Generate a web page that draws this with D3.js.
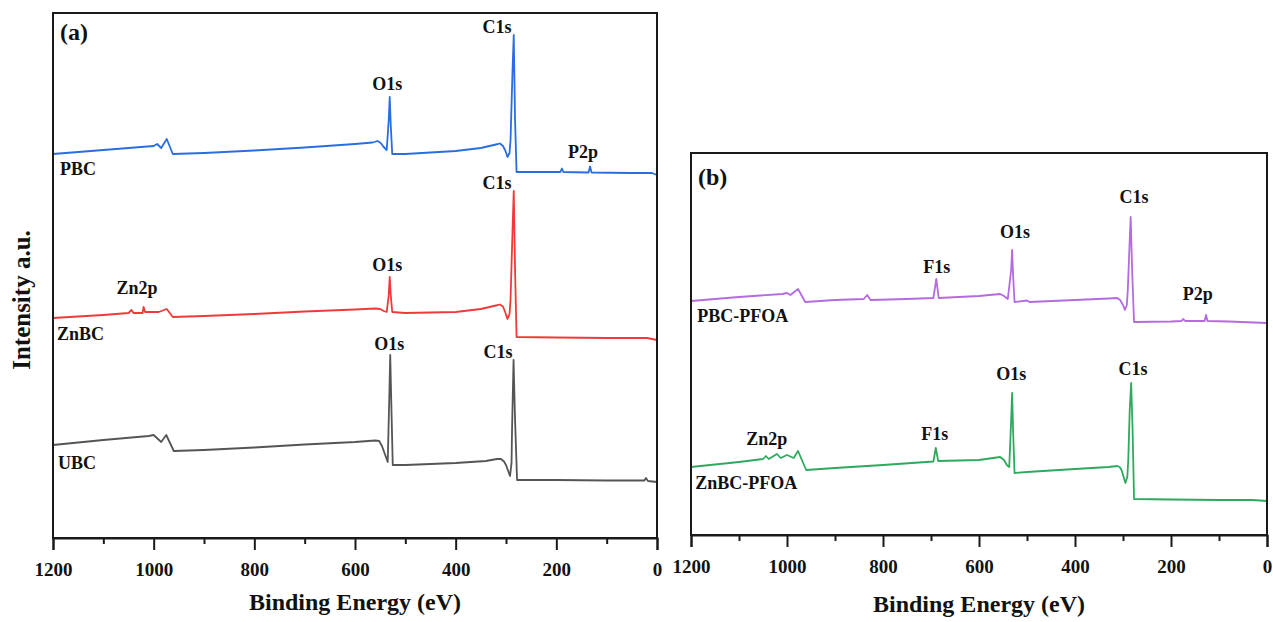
<!DOCTYPE html>
<html>
<head>
<meta charset="utf-8">
<script src="https://cdn.jsdelivr.net/npm/d3@7"></script>
<style>
  body { margin: 0; background: #fff; }
  svg { display: block; font-family: "Liberation Serif", "Times New Roman", serif; font-weight: bold; }
</style>
</head>
<body>
<div id="chart"></div>
<script>
// tick values (binding energy, eV)
const majorTicks = [1200, 1000, 800, 600, 400, 200, 0];
const minorTicks = [1100, 900, 700, 500, 300, 100];

// survey spectra, [binding energy (eV), intensity (a.u., offset)]
const pbc = [[1200,76.8],[1100,77.6],[1000,78.4],[993,78.8],[985,78.0],[974,79.8],[962,76.8],[900,77.0],[800,77.5],[700,78.1],[600,78.8],[565,79.1],[555,79.4],[549,79.0],[543,78.2],[537,77.6],[533,83.6],[531,88.2],[529,82.6],[526,76.8],[500,76.8],[400,77.4],[350,78.0],[320,78.7],[312,78.9],[306,78.4],[301,77.4],[297,76.2],[293,77.0],[291,79.6],[287,93.6],[284.6,100.6],[282,83.6],[279,73.2],[250,73.2],[192,73.2],[189,73.9],[186,73.2],[136,73.1],[133,74.3],[130,73.1],[50,73.0],[10,73.0],[0,72.6]];
const znbc = [[1200,44.0],[1100,44.6],[1050,45.0],[1044,45.6],[1040,45.0],[1022,45.0],[1020,46.2],[1017,45.2],[990,45.2],[974,45.8],[962,44.2],[900,44.4],[800,44.8],[700,45.3],[600,45.7],[560,45.9],[550,45.8],[543,45.4],[537,45.2],[533,48.6],[531,52.2],[529,48.6],[526,45.2],[500,45.0],[400,45.2],[350,45.8],[320,46.5],[312,46.7],[306,46.3],[301,45.0],[297,43.8],[293,44.8],[291,47.6],[287,61.6],[284.6,69.4],[282,53.6],[279,40.2],[200,40.1],[100,40.0],[20,40.0],[0,39.6]];
const ubc = [[1200,18.6],[1100,19.6],[1010,20.4],[1000,20.6],[985,19.2],[975,20.6],[960,17.4],[900,17.6],[800,18.1],[700,18.7],[600,19.2],[560,19.5],[552,19.4],[546,18.3],[540,16.6],[535,15.2],[532,27.6],[530,36.6],[528,27.6],[525,14.6],[500,14.6],[400,15.0],[340,15.4],[318,15.8],[310,15.8],[304,15.3],[300,14.6],[292,12.4],[289,15.0],[288,21.6],[285,35.6],[282,23.6],[278,11.6],[200,11.6],[100,11.5],[25,11.5],[22,12.0],[18,11.4],[0,11.2]];
const pbcPfoa = [[1200,46.8],[1100,47.6],[1010,48.2],[1000,48.4],[993,48.0],[977,49.2],[962,46.6],[900,47.0],[840,47.2],[833,48.0],[826,47.0],[750,47.2],[695,47.4],[689,51.2],[684,47.4],[600,47.8],[556,48.2],[548,47.8],[540,47.2],[533,53.0],[531,57.0],[529,52.0],[526,46.6],[500,46.9],[495,46.6],[400,47.0],[330,47.3],[312,47.4],[306,47.0],[300,46.0],[296,45.0],[292,46.0],[290,49.0],[286,59.0],[284,63.6],[281,53.0],[277,42.6],[200,42.7],[178,42.8],[175,43.2],[170,42.8],[130,42.8],[127,44.0],[124,42.8],[80,42.7],[0,42.4]];
const znbcPfoa = [[1200,13.6],[1100,14.6],[1050,15.2],[1044,15.8],[1038,15.2],[1021,16.2],[1013,15.4],[1000,16.0],[986,15.4],[977,16.8],[960,13.0],[900,13.4],[800,14.0],[695,14.7],[690,17.4],[685,14.8],[600,15.0],[556,15.6],[548,15.0],[542,14.0],[537,13.6],[533,23.0],[531,28.4],[529,21.0],[526,12.4],[500,12.6],[400,13.2],[330,13.6],[312,13.8],[307,13.6],[303,13.0],[295,10.4],[291,11.6],[289,15.0],[286,25.0],[283,30.4],[280,21.0],[277,7.2],[200,7.1],[100,7.0],[30,7.0],[0,6.8]];

// peak and sample labels, [text, energy, intensity]
const peakLabelsA = [["C1s",318,101],["O1s",536,89.6],["P2p",147,76],["C1s",318,69.8],["O1s",536,53.4],["Zn2p",1033,48.8],["O1s",532,37.6],["C1s",316,36]];
const sampleLabelsA = [["PBC",1186,72.6],["ZnBC",1192,39.6],["UBC",1190,13.8]];
const peakLabelsB = [["C1s",277,66.4],["O1s",525,59.4],["F1s",688,52.4],["P2p",144,47],["C1s",279,32],["O1s",533,31],["F1s",692,19],["Zn2p",1042,18]];
const sampleLabelsB = [["PBC-PFOA",1187,42.6],["ZnBC-PFOA",1191,9.2]];

const width = 1273;
const height = 622;

const svg = d3.select("#chart").append("svg")
  .attr("width", width)
  .attr("height", height)
  .attr("viewBox", [0, 0, width, height]);

function panel(opt) {
  const x = d3.scaleLinear([1200, 0], [opt.left, opt.right]);
  const y = d3.scaleLinear([0, opt.yMax], [opt.bottom, opt.top]);
  const g = svg.append("g");

  const line = d3.line().x(d => x(d[0])).y(d => y(d[1]));
  for (const s of opt.series) {
    g.append("path")
      .attr("d", line(s.data))
      .attr("fill", "none")
      .attr("stroke", s.color)
      .attr("stroke-width", 1.8)
      .attr("stroke-linejoin", "round");
  }

  // frame
  g.append("rect")
    .attr("x", x(1200)).attr("y", y(opt.yMax))
    .attr("width", x(0) - x(1200)).attr("height", y(0) - y(opt.yMax))
    .attr("fill", "none").attr("stroke", "#1a1a1a").attr("stroke-width", 2);

  const axisG = g.append("g").attr("transform", `translate(0,${y(0)})`);
  axisG.call(d3.axisBottom(x).tickValues(majorTicks).tickSize(12).tickPadding(13).tickFormat(d3.format("d")));
  axisG.append("g").call(d3.axisBottom(x).tickValues(minorTicks).tickSize(6).tickFormat(""))
    .select(".domain").remove();
  axisG.selectAll("path, line").attr("stroke", "#1a1a1a").attr("stroke-width", 2);
  axisG.selectAll("text")
    .attr("fill", "#111")
    .style("font-size", "19px")
    .style("font-family", "Liberation Serif, serif")
    .style("font-weight", "bold");

  g.append("text")
    .attr("x", (x(1200) + x(0)) / 2)
    .attr("y", opt.titleY)
    .attr("text-anchor", "middle")
    .attr("fill", "#111")
    .style("font-size", "24px")
    .text("Binding Energy (eV)");

  g.selectAll(".peak").data(opt.peaks).join("text")
    .attr("x", d => x(d[1])).attr("y", d => y(d[2]))
    .attr("text-anchor", "middle")
    .attr("fill", "#111")
    .style("font-size", "18px")
    .text(d => d[0]);

  g.selectAll(".sample").data(opt.samples).join("text")
    .attr("x", d => x(d[1])).attr("y", d => y(d[2]))
    .attr("fill", "#111")
    .style("font-size", "18px")
    .text(d => d[0]);

  g.append("text")
    .attr("x", x(1200) + 7).attr("y", opt.tagY)
    .attr("fill", "#111")
    .style("font-size", "24px")
    .text(opt.tag);

  return { x, y };
}

panel({
  left: 53, right: 657, top: 13, bottom: 538, yMax: 105,
  titleY: 610, tag: "(a)", tagY: 40,
  series: [
    { data: pbc, color: "#2a6de0" },
    { data: znbc, color: "#f03a3a" },
    { data: ubc, color: "#555555" }
  ],
  peaks: peakLabelsA, samples: sampleLabelsA
});

panel({
  left: 691, right: 1267, top: 153, bottom: 535, yMax: 76.4,
  titleY: 612, tag: "(b)", tagY: 185,
  series: [
    { data: pbcPfoa, color: "#b46be0" },
    { data: znbcPfoa, color: "#2eaa5e" }
  ],
  peaks: peakLabelsB, samples: sampleLabelsB
});

// y axis title for panel (a)
svg.append("text")
  .attr("transform", "translate(30,300) rotate(-90)")
  .attr("text-anchor", "middle")
  .attr("fill", "#111")
  .style("font-size", "25px")
  .text("Intensity a.u.");
</script>
</body>
</html>
